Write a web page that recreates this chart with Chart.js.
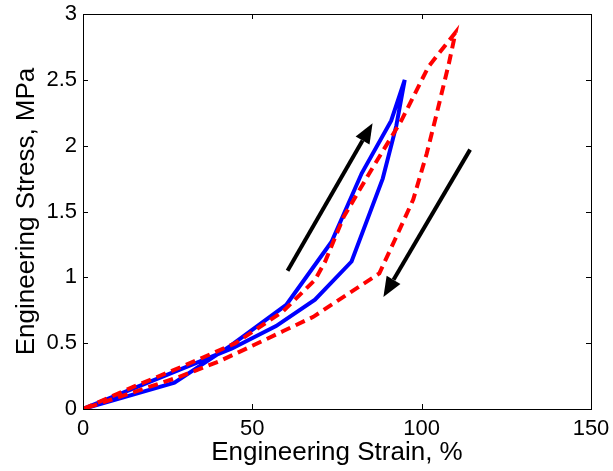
<!DOCTYPE html>
<html>
<head>
<meta charset="utf-8">
<script src="https://cdn.jsdelivr.net/npm/chart.js@4"></script>
<style>
  html, body { margin: 0; padding: 0; background: #fff; }
  #wrap { width: 613px; height: 471px; }
</style>
</head>
<body>
<div id="wrap"><canvas id="chart" width="613" height="471"></canvas></div>
<script>
// strain (%) and stress (MPa)
const blueStrain = [0, 27, 43.5, 60, 73.4, 82.3, 91, 95, 92.5, 88.5, 79.3, 68.5, 57, 44, 0]
const blueStress = [0, 0.2, 0.48, 0.79, 1.27, 1.79, 2.19, 2.5, 2.15, 1.75, 1.12, 0.83, 0.63, 0.46, 0]

const redStrain = [0, 15, 30, 45, 59, 68.5, 71.5, 77, 85, 94, 102, 110, 108, 104.5, 101.5, 97.5, 92, 87.5, 78, 68, 59, 50, 40, 28, 0]
const redStress = [0, 0.17, 0.33, 0.5, 0.74, 0.98, 1.12, 1.46, 1.81, 2.19, 2.6, 2.86, 2.62, 2.25, 1.94, 1.59, 1.28, 1.03, 0.87, 0.7, 0.59, 0.48, 0.36, 0.24, 0]

// arrows: [fromStrain, fromStress, toStrain, toStress]
const arrowUp = [60.4, 1.05, 85.5, 2.17]
const arrowDown = [114.3, 1.97, 88.7, 0.85]

const xTicks = [0, 50, 100, 150]
const yTicks = [0, 0.5, 1, 1.5, 2, 2.5, 3]

// build point lists
function toPoints(xs, ys) {
    return xs.map((x, i) => ({ x: x, y: ys[i] }))
}

const FONT = '"Liberation Sans", Arial, Helvetica, sans-serif'

// box, inward ticks and arrows
const framePlugin = {
    id: 'frame',
    afterDatasetsDraw(chart) {
        const ctx = chart.ctx
        const a = chart.chartArea
        const xs = chart.scales.x
        const ys = chart.scales.y
        const tl = 5

        ctx.save()
        ctx.strokeStyle = '#000'
        ctx.lineWidth = 1
        ctx.beginPath()
        xTicks.forEach(v => {
            const px = Math.round(xs.getPixelForValue(v)) + 0.5
            ctx.moveTo(px, a.bottom); ctx.lineTo(px, a.bottom - tl)
            ctx.moveTo(px, a.top); ctx.lineTo(px, a.top + tl)
        })
        yTicks.forEach(v => {
            const py = Math.round(ys.getPixelForValue(v)) + 0.5
            ctx.moveTo(a.left, py); ctx.lineTo(a.left + tl, py)
            ctx.moveTo(a.right, py); ctx.lineTo(a.right - tl, py)
        })
        ctx.stroke()
        ctx.strokeRect(Math.round(a.left) + 0.5, Math.round(a.top) + 0.5,
            Math.round(a.right - a.left), Math.round(a.bottom - a.top))

        // arrows
        ;[arrowUp, arrowDown].forEach(arr => {
            const x0 = xs.getPixelForValue(arr[0])
            const y0 = ys.getPixelForValue(arr[1])
            const x1 = xs.getPixelForValue(arr[2])
            const y1 = ys.getPixelForValue(arr[3])
            const ang = Math.atan2(y1 - y0, x1 - x0)
            const headLen = 20
            const headW = 8
            const bx = x1 - headLen * Math.cos(ang)
            const by = y1 - headLen * Math.sin(ang)
            ctx.strokeStyle = '#000'
            ctx.lineWidth = 4
            ctx.lineCap = 'butt'
            ctx.beginPath()
            ctx.moveTo(x0, y0)
            ctx.lineTo(bx, by)
            ctx.stroke()
            ctx.fillStyle = '#000'
            ctx.beginPath()
            ctx.moveTo(x1, y1)
            ctx.lineTo(bx + headW * Math.sin(ang), by - headW * Math.cos(ang))
            ctx.lineTo(bx - headW * Math.sin(ang), by + headW * Math.cos(ang))
            ctx.closePath()
            ctx.fill()
        })
        ctx.restore()
    }
}

const ctx = document.getElementById('chart').getContext('2d')
new Chart(ctx, {
    type: 'scatter',
    data: {
        datasets: [
            {
                label: 'red',
                data: toPoints(redStrain, redStress),
                showLine: true,
                borderColor: '#ff0000',
                borderWidth: 4,
                borderDash: [10, 6],
                pointRadius: 0,
                fill: false,
                tension: 0
            },
            {
                label: 'blue',
                data: toPoints(blueStrain, blueStress),
                showLine: true,
                borderColor: '#0000ff',
                borderWidth: 4,
                pointRadius: 0,
                fill: false,
                tension: 0
            }
        ]
    },
    options: {
        responsive: false,
        animation: false,
        devicePixelRatio: 1,
        layout: { padding: { top: 14, right: 22, left: 0, bottom: 0 } },
        plugins: {
            legend: { display: false },
            tooltip: { enabled: false }
        },
        scales: {
            x: {
                type: 'linear',
                min: 0,
                max: 150,
                afterFit(scale) {
                    scale.height = 62
                    scale.paddingLeft = 0
                    scale.paddingRight = 0
                },
                afterBuildTicks(scale) { scale.ticks = xTicks.map(v => ({ value: v })) },
                grid: { display: false, drawTicks: false },
                border: { display: false },
                ticks: {
                    color: '#000',
                    font: { family: FONT, size: 22 },
                    padding: 7,
                    maxRotation: 0,
                    autoSkip: false,
                    callback: v => String(v)
                },
                title: {
                    display: true,
                    text: 'Engineering Strain, %',
                    color: '#000',
                    font: { family: FONT, size: 26 },
                    padding: { top: 0, bottom: 3 }
                }
            },
            y: {
                type: 'linear',
                min: 0,
                max: 3,
                afterFit(scale) {
                    scale.width = 83
                    scale.paddingTop = 0
                    scale.paddingBottom = 0
                },
                afterBuildTicks(scale) { scale.ticks = yTicks.map(v => ({ value: v })) },
                grid: { display: false, drawTicks: false },
                border: { display: false },
                ticks: {
                    color: '#000',
                    font: { family: FONT, size: 22 },
                    padding: 6,
                    autoSkip: false,
                    callback: v => String(v)
                },
                title: {
                    display: true,
                    text: 'Engineering Stress, MPa',
                    color: '#000',
                    font: { family: FONT, size: 26 },
                    padding: { top: 11, bottom: 0 }
                }
            }
        }
    },
    plugins: [framePlugin]
})
</script>
</body>
</html>
